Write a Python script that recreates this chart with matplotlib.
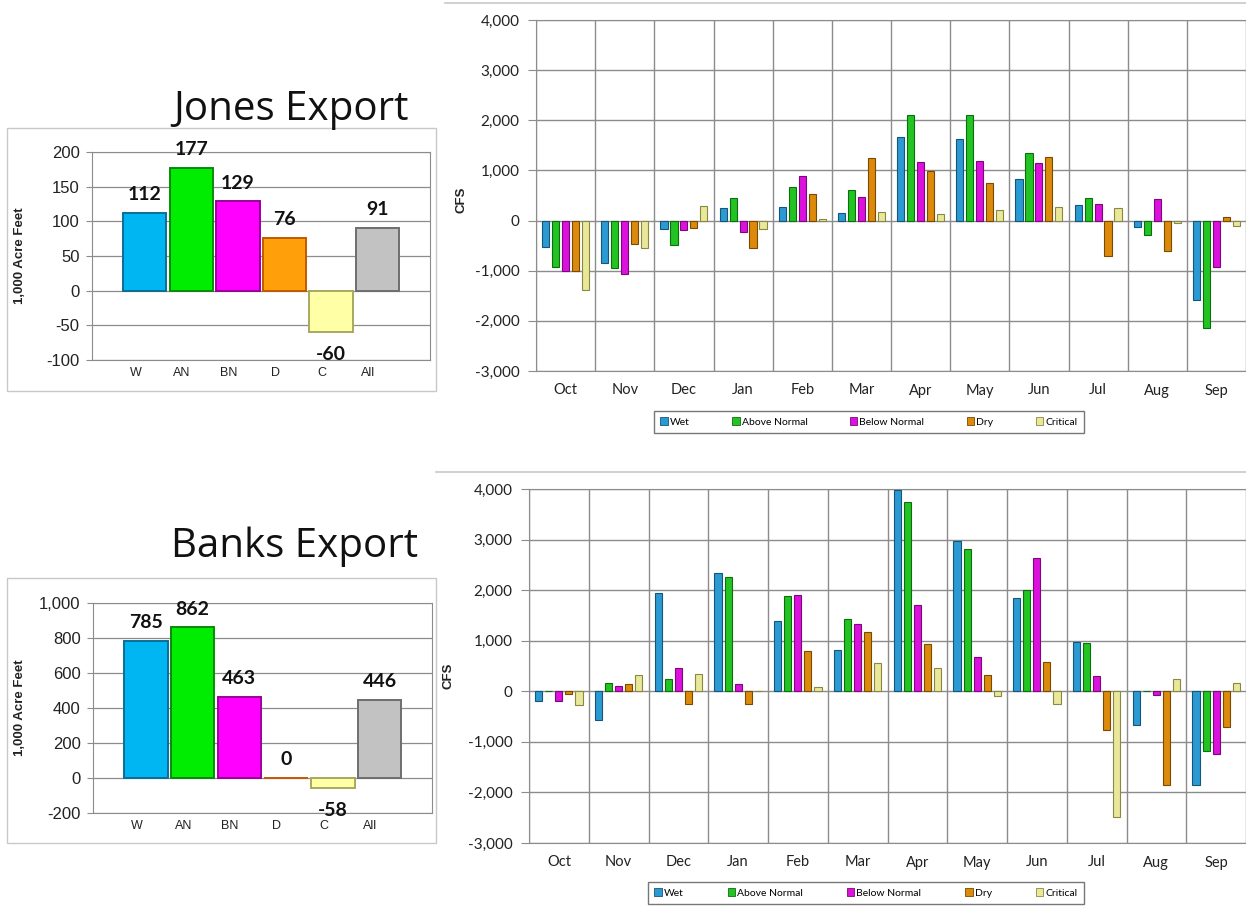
import numpy as np
import matplotlib
matplotlib.use("Agg")
import matplotlib.pyplot as plt
from matplotlib.patches import Rectangle
from matplotlib.lines import Line2D
from matplotlib.ticker import FuncFormatter, MultipleLocator

# --- data ---
categories = ['W', 'AN', 'BN', 'D', 'C', 'All']
jones_total = [112, 177, 129, 76, -60, 91]
banks_total = [785, 862, 463, 0, -58, 446]

months = ['Oct', 'Nov', 'Dec', 'Jan', 'Feb', 'Mar', 'Apr', 'May', 'Jun', 'Jul', 'Aug', 'Sep']
year_types = ['Wet', 'Above Normal', 'Below Normal', 'Dry', 'Critical']

jones_wet = [-530, -850, -165, 255, 280, 155, 1665, 1630, 830, 320, -120, -1580]
jones_an = [-920, -945, -495, 445, 660, 605, 2115, 2115, 1350, 460, -285, -2150]
jones_bn = [-1000, -1065, -185, -235, 890, 470, 1165, 1180, 1155, 330, 440, -935]
jones_dry = [-1000, -465, -140, -550, 525, 1255, 985, 740, 1275, -700, -615, 80]
jones_crit = [-1380, -545, 285, -165, 25, 180, 135, 215, 265, 255, -50, -100]

banks_wet = [-185, -575, 1945, 2330, 1385, 825, 3980, 2970, 1840, 970, -670, -1850]
banks_an = [15, 160, 245, 2250, 1885, 1430, 3740, 2820, 2010, 950, 15, -1190]
banks_bn = [-185, 95, 470, 140, 1900, 1330, 1710, 680, 2640, 310, -80, -1240]
banks_dry = [-60, 135, -255, -250, 800, 1180, 930, 325, 580, -760, -1850, -705]
banks_crit = [-265, 315, 335, 15, 90, 555, 470, -85, -245, -2480, 240, 160]

# --- styling ---
small_face = ['#00B6F2', '#00EC00', '#FF00FF', '#FFA00A', '#FFFFA6', '#C2C2C2']
small_edge = ['#0B6E96', '#0A8A0A', '#9A009A', '#C05A00', '#A8A860', '#6E6E6E']
big_face = ['#2B9AD3', '#22C322', '#DD11DD', '#DB8A0C', '#E9E79A']
big_edge = ['#15557A', '#0C6E0C', '#7A0A7A', '#7A4A00', '#8A8840']

W, H = 1246, 909
fig = plt.figure(figsize=(W / 100, H / 100), dpi=100)


def box(l, t, r, b):
    return [l / W, 1 - b / H, (r - l) / W, (b - t) / H]


def fx(x):
    return x / W


def fy(y):
    return 1 - y / H


comma = FuncFormatter(lambda v, p: f'{int(v):,}')
grid_c = '#8c8c8c'


def small_chart(rect, values, ylim, step, title, title_xy, ylab_xy):
    ax = fig.add_axes(box(*rect))
    x = np.arange(len(categories))
    ax.bar(x, values, width=0.93, color=small_face, edgecolor=small_edge,
           linewidth=1.4, zorder=3)
    for xi, v in zip(x, values):
        off = -16 if v < 0 else 13
        ax.annotate(f'{v}', (xi, v), xytext=(0, off), textcoords='offset points',
                    ha='center', va='center', fontsize=14, fontweight='bold',
                    family='Lato', color='#111111', zorder=5)
    ax.set_xlim(-1.13, 6.12)
    ax.set_ylim(*ylim)
    ax.yaxis.set_major_locator(MultipleLocator(step))
    ax.yaxis.set_major_formatter(comma)
    ax.set_xticks(x - 0.2, categories)
    ax.tick_params(axis='x', length=0, pad=5, labelsize=9)
    ax.tick_params(axis='y', length=4, pad=5, labelsize=12, color=grid_c)
    for lab in ax.get_xticklabels() + ax.get_yticklabels():
        lab.set_family('Liberation Sans')
        lab.set_color('#222222')
    ax.grid(axis='y', color=grid_c, linewidth=0.9, zorder=0)
    for s in ax.spines.values():
        s.set_color(grid_c)
    fig.text(fx(title_xy[0]), fy(title_xy[1]), title, fontsize=29, family='Open Sans',
             ha='left', va='baseline', color='#111111')
    fig.text(fx(ylab_xy[0]), fy(ylab_xy[1]), '1,000 Acre Feet', rotation=90,
             fontsize=9.5, fontweight='bold', family='Liberation Sans',
             ha='center', va='center', color='#222222')
    return ax


def monthly_chart(rect, series, legend_rect, ylab_xy):
    ax = fig.add_axes(box(*rect))
    x = np.arange(len(months))
    bstep, bw = 0.168, 0.12
    handles = []
    for i, vals in enumerate(series):
        ax.bar(x + (i - 2) * bstep, vals, width=bw, color=big_face[i],
               edgecolor=big_edge[i], linewidth=0.8, zorder=3)
        handles.append(Rectangle((0, 0), 1, 1, facecolor=big_face[i],
                                 edgecolor=big_edge[i], linewidth=0.6))
    ax.set_xlim(-0.5, 11.5)
    ax.set_ylim(-3000, 4000)
    ax.yaxis.set_major_locator(MultipleLocator(1000))
    ax.yaxis.set_major_formatter(comma)
    ax.set_xticks(x, months)
    ax.set_xticks(np.arange(-0.5, 12, 1), minor=True)
    ax.tick_params(axis='x', which='both', length=0, pad=9, labelsize=10.5)
    ax.tick_params(axis='y', length=6, pad=6, labelsize=11, color=grid_c)
    for lab in ax.get_xticklabels() + ax.get_yticklabels():
        lab.set_family('Lato')
        lab.set_color('#222222')
    ax.grid(axis='y', which='major', color=grid_c, linewidth=1.0, zorder=0)
    ax.grid(axis='x', which='minor', color=grid_c, linewidth=1.0, zorder=0)
    ax.grid(axis='x', which='major', visible=False)
    for s in ax.spines.values():
        s.set_color(grid_c)
    ax.spines['right'].set_visible(False)
    fig.text(fx(ylab_xy[0]), fy(ylab_xy[1]), 'CFS', rotation=90, fontsize=9.5,
             fontweight='bold', family='Liberation Sans', ha='center', va='center',
             color='#222222')
    l, t, r, b = legend_rect
    leg = fig.legend(handles, year_types, loc='center', ncol=5, mode='expand',
                     bbox_to_anchor=(fx(l), fy(b), fx(r) - fx(l), fy(t) - fy(b)),
                     bbox_transform=fig.transFigure, frameon=True, fancybox=False,
                     prop={'family': 'Lato', 'size': 7.5}, handlelength=0.7,
                     handleheight=0.8, handletextpad=0.2, borderpad=0.6,
                     columnspacing=2.5)
    leg.get_frame().set_edgecolor('#555555')
    leg.get_frame().set_linewidth(1.0)
    return ax


# frames around the small charts and lines above the big charts
fig.add_artist(Rectangle((fx(7), fy(391)), fx(436) - fx(7), fy(128) - fy(391),
                         transform=fig.transFigure, fill=False,
                         edgecolor='#c8c8c8', linewidth=1))
fig.add_artist(Rectangle((fx(7), fy(843)), fx(436) - fx(7), fy(578) - fy(843),
                         transform=fig.transFigure, fill=False,
                         edgecolor='#c8c8c8', linewidth=1))
fig.add_artist(Line2D([fx(445), 1], [fy(3), fy(3)], transform=fig.transFigure,
                      color='#c8c8c8', linewidth=1.2))
fig.add_artist(Line2D([fx(436), 1], [fy(472), fy(472)], transform=fig.transFigure,
                      color='#c8c8c8', linewidth=1.2))

small_chart((92, 152, 430, 360), jones_total, (-100, 200), 50,
            'Jones Export', (173, 120), (20, 256))
small_chart((93, 603, 432, 813), banks_total, (-200, 1000), 200,
            'Banks Export', (171, 557), (20, 708))

monthly_chart((536, 20, 1246, 371),
              [jones_wet, jones_an, jones_bn, jones_dry, jones_crit],
              (649, 408, 1089, 436), (461, 200))
monthly_chart((529, 489, 1246, 843),
              [banks_wet, banks_an, banks_bn, banks_dry, banks_crit],
              (643, 879, 1089, 907), (449, 676))

fig.savefig('out.png', dpi=100, facecolor='white')
